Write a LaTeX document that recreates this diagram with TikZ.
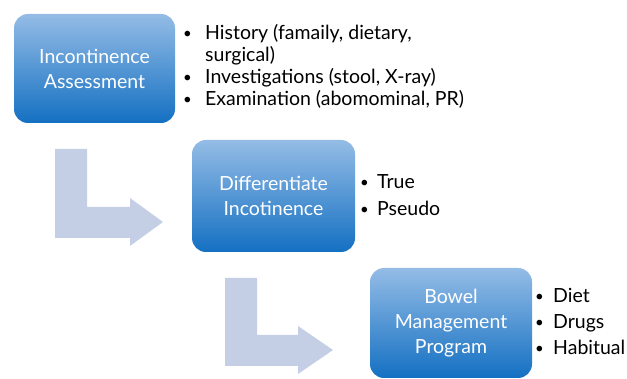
\documentclass[tikz,border=0pt]{standalone}
\usepackage{fontspec}
\setmainfont{Lato}
\usetikzlibrary{positioning}
\definecolor{boxtop}{HTML}{94BCE6}
\definecolor{boxbot}{HTML}{1470C2}
\definecolor{bentarrow}{HTML}{C4CFE6}
\newcommand{\bul}[1][20pt]{\makebox[#1][l]{\raisebox{1.2pt}{\fontsize{15}{15}\selectfont\textbullet}}}

\begin{document}
\begin{tikzpicture}[x=1pt, y=-1pt,
stage/.style={rectangle, rounded corners=14pt, top color=boxtop, bottom color=boxbot, draw=none, text=white, font=\fontsize{19.5}{25}\selectfont, align=center, inner sep=0},
item/.style={anchor=west, font=\fontsize{19.5}{22}\selectfont, inner sep=0, text height=14pt, text depth=4pt},
bent/.style={fill=bentarrow, draw=none}
]
\useasboundingbox (0,0) rectangle (627,379);
% stages
\node [stage, minimum width=161pt, minimum height=109pt] (assess) at (94.5,68.5) {Incontinence\\Assessment};
\node [stage, minimum width=163pt, minimum height=112pt] (diff) at (273.5,196) {Differentiate\\Incotinence};
\node [stage, minimum width=162pt, minimum height=110pt] (bowel) at (451,323) {Bowel\\Management\\Program};
% bullets
\node [item] (h1) at (183,35) {\bul[22pt]History (famaily, dietary,};
\node [item] (h2) at (205,57) {surgical)};
\node [item] (h3) at (183,79) {\bul[22pt]Investigations (stool, X-ray)};
\node [item] (h4) at (183,101) {\bul[22pt]Examination (abomominal, PR)};
\node [item] (t1) at (360,184) {\bul[17pt]True};
\node [item] (t2) at (360,211) {\bul[17pt]Pseudo};
\node [item] (p1) at (535,298) {\bul[18pt]Diet};
\node [item] (p2) at (535,324) {\bul[18pt]Drugs};
\node [item] (p3) at (535,350) {\bul[18pt]Habitual};
% bent arrows
\fill [bent] (55,149) -- (87,149) -- (87,207) -- (130,207) -- (130,198) -- (163,222) -- (130,246) -- (130,238) -- (55,238) -- cycle;
\fill [bent] (225,278) -- (257,278) -- (257,335) -- (298,335) -- (298,326) -- (333,350) -- (298,374) -- (298,366) -- (225,366) -- cycle;
\end{tikzpicture}
\end{document}
